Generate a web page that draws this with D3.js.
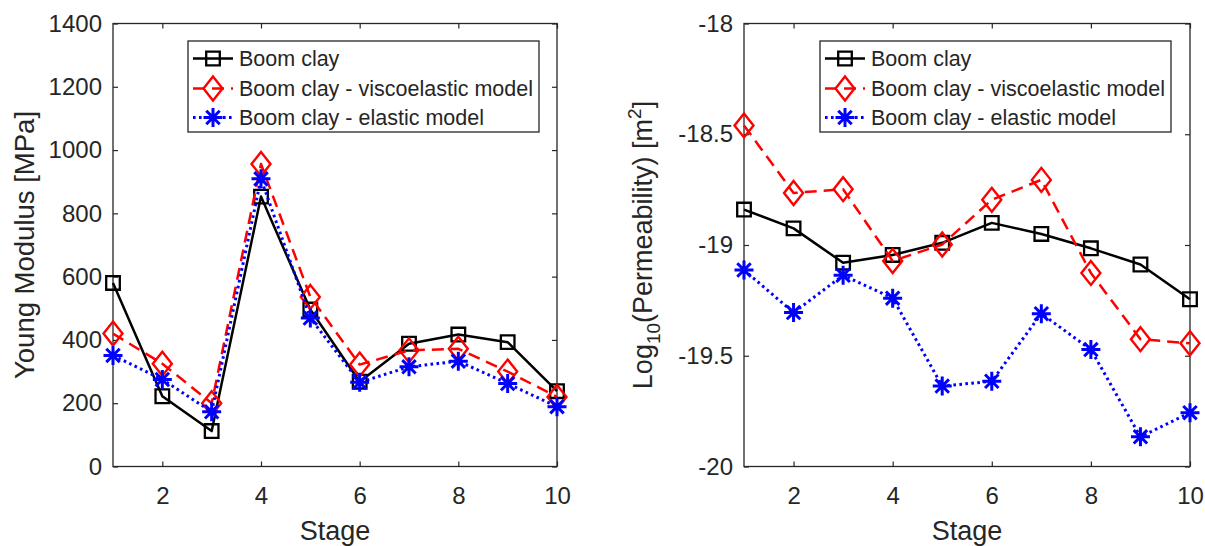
<!DOCTYPE html>
<html>
<head>
<meta charset="utf-8">
<script src="https://cdn.jsdelivr.net/npm/d3@7"></script>
<style>
  html, body { margin: 0; padding: 0; background: #fff; }
  svg { display: block; }
  text { font-family: "Liberation Sans", Arial, Helvetica, sans-serif; fill: #262626; }
</style>
</head>
<body>
<svg id="chart" width="1205" height="546"></svg>
<script>
// ---- data ----
const stages = [1, 2, 3, 4, 5, 6, 7, 8, 9, 10];
const xTicks = [2, 4, 6, 8, 10];

const youngBoom    = [580, 222, 112, 853, 496, 268, 388, 417, 393, 238];
const youngVisco   = [420, 325, 200, 956, 536, 322, 367, 372, 300, 220];
const youngElastic = [351, 275, 173, 909, 469, 266, 315, 333, 262, 189];
const youngTicks   = [0, 200, 400, 600, 800, 1000, 1200, 1400];

const permBoom    = [-18.84, -18.925, -19.08, -19.045, -18.99, -18.90, -18.95, -19.015, -19.088, -19.245];
const permVisco   = [-18.46, -18.765, -18.748, -19.072, -18.998, -18.796, -18.706, -19.126, -19.425, -19.444];
const permElastic = [-19.113, -19.305, -19.137, -19.24, -19.637, -19.615, -19.31, -19.472, -19.866, -19.757];
const permTicks   = [-20, -19.5, -19, -18.5, -18];

const seriesNames = ["Boom clay", "Boom clay - viscoelastic model", "Boom clay - elastic model"];

// ---- styles ----
const styles = [
  { color: "#000000", dash: null,      width: 2.5, marker: "square",   mw: 2.3 },
  { color: "#ff0000", dash: "12,7",    width: 2.5, marker: "diamond",  mw: 2.4 },
  { color: "#0000ff", dash: "2.6,3.4", width: 3,   marker: "asterisk", mw: 3 }
];
const axisColor = "#262626";
const FONT_TICK = 24, FONT_LEG = 21.5, FONT_XLAB = 27, FONT_YLAB = 27.5;

const svg = d3.select("#chart");

function markerPath(type) {
  if (type === "square") { const h = 6.8; return `M${-h},${-h}H${h}V${h}H${-h}Z`; }
  if (type === "diamond") { const w = 9.5, h = 12; return `M0,${-h}L${w},0L0,${h}L${-w},0Z`; }
  const r = 9.5, d = r * Math.SQRT1_2;
  return `M0,${-r}V${r}M${-r},0H${r}M${-d},${-d}L${d},${d}M${-d},${d}L${d},${-d}`;
}

function drawPanel(opts) {
  const { x0, x1, y0, y1, yDomain, yTicks, yFormat, series, legendX, ylabel } = opts;
  const g = svg.append("g");
  const x = d3.scaleLinear().domain([1, 10]).range([x0, x1]);
  const y = d3.scaleLinear().domain(yDomain).range([y1, y0]);

  const ax = (sel) => sel.selectAll("path.domain").remove();
  g.append("g").attr("transform", `translate(0,${y1})`)
    .call(d3.axisBottom(x).tickValues(xTicks).tickSizeInner(-5).tickSizeOuter(0).tickPadding(20))
    .call(ax);
  g.append("g").attr("transform", `translate(0,${y0})`)
    .call(d3.axisTop(x).tickValues(xTicks).tickSizeInner(-5).tickSizeOuter(0).tickFormat(""))
    .call(ax);
  g.append("g").attr("transform", `translate(${x0},0)`)
    .call(d3.axisLeft(y).tickValues(yTicks).tickSizeInner(-5).tickSizeOuter(0).tickPadding(11).tickFormat(yFormat))
    .call(ax);
  g.append("g").attr("transform", `translate(${x1},0)`)
    .call(d3.axisRight(y).tickValues(yTicks).tickSizeInner(-5).tickSizeOuter(0).tickFormat(""))
    .call(ax);
  g.selectAll(".tick line").attr("stroke", axisColor).attr("stroke-width", 1.2);
  g.selectAll(".tick text").attr("font-size", FONT_TICK).attr("fill", axisColor)
    .style("font-family", '"Liberation Sans", Arial, Helvetica, sans-serif');

  g.append("rect").attr("x", x0).attr("y", y0).attr("width", x1 - x0).attr("height", y1 - y0)
    .attr("fill", "none").attr("stroke", axisColor).attr("stroke-width", 1.3);

  const line = d3.line().x((d, i) => x(stages[i])).y(d => y(d));
  series.forEach((vals, si) => {
    const st = styles[si];
    g.append("path").attr("d", line(vals)).attr("fill", "none")
      .attr("stroke", st.color).attr("stroke-width", st.width)
      .attr("stroke-dasharray", st.dash).attr("stroke-linejoin", "round");
    g.selectAll(null).data(vals).enter().append("path")
      .attr("transform", (d, i) => `translate(${x(stages[i])},${y(d)})`)
      .attr("d", markerPath(st.marker)).attr("fill", "none")
      .attr("stroke", st.color).attr("stroke-width", st.mw);
  });

  const lg = g.append("g");
  lg.append("rect").attr("x", legendX).attr("y", 41).attr("width", 351).attr("height", 91)
    .attr("fill", "#fff").attr("stroke", axisColor).attr("stroke-width", 1.3);
  const rowsY = [58.5, 88.5, 117.5];
  seriesNames.forEach((name, si) => {
    const st = styles[si];
    const ry = rowsY[si];
    lg.append("line").attr("x1", legendX + 5).attr("x2", legendX + 45).attr("y1", ry).attr("y2", ry)
      .attr("stroke", st.color).attr("stroke-width", st.width).attr("stroke-dasharray", st.dash);
    lg.append("path").attr("transform", `translate(${legendX + 25},${ry})`)
      .attr("d", markerPath(st.marker)).attr("fill", "none")
      .attr("stroke", st.color).attr("stroke-width", st.mw);
    lg.append("text").attr("x", legendX + 51).attr("y", ry).attr("dy", "0.36em")
      .attr("font-size", FONT_LEG).text(name);
  });

  g.append("text").attr("x", (x0 + x1) / 2).attr("y", 540).attr("text-anchor", "middle")
    .attr("font-size", FONT_XLAB).text("Stage");

  ylabel(g, (y0 + y1) / 2);
}

drawPanel({
  x0: 113, x1: 557, y0: 23.5, y1: 466.5,
  yDomain: [0, 1400], yTicks: youngTicks, yFormat: d3.format("d"),
  series: [youngBoom, youngVisco, youngElastic], legendX: 188,
  ylabel: (g, cy) => {
    g.append("text").attr("transform", `translate(34,${cy}) rotate(-90)`)
      .attr("text-anchor", "middle").attr("font-size", FONT_YLAB).text("Young Modulus [MPa]");
  }
});

drawPanel({
  x0: 744, x1: 1190, y0: 23.5, y1: 466.5,
  yDomain: [-20, -18], yTicks: permTicks, yFormat: d => String(d),
  series: [permBoom, permVisco, permElastic], legendX: 820,
  ylabel: (g, cy) => {
    const t = g.append("text").attr("transform", `translate(652,${cy}) rotate(-90)`)
      .attr("text-anchor", "middle").attr("font-size", FONT_XLAB);
    t.append("tspan").text("Log");
    t.append("tspan").attr("dy", 8).attr("font-size", 19).text("10");
    t.append("tspan").attr("dy", -8).text("(Permeability) [m");
    t.append("tspan").attr("dy", -11).attr("font-size", 19).text("2");
    t.append("tspan").attr("dy", 11).text("]");
  }
});
</script>
</body>
</html>
